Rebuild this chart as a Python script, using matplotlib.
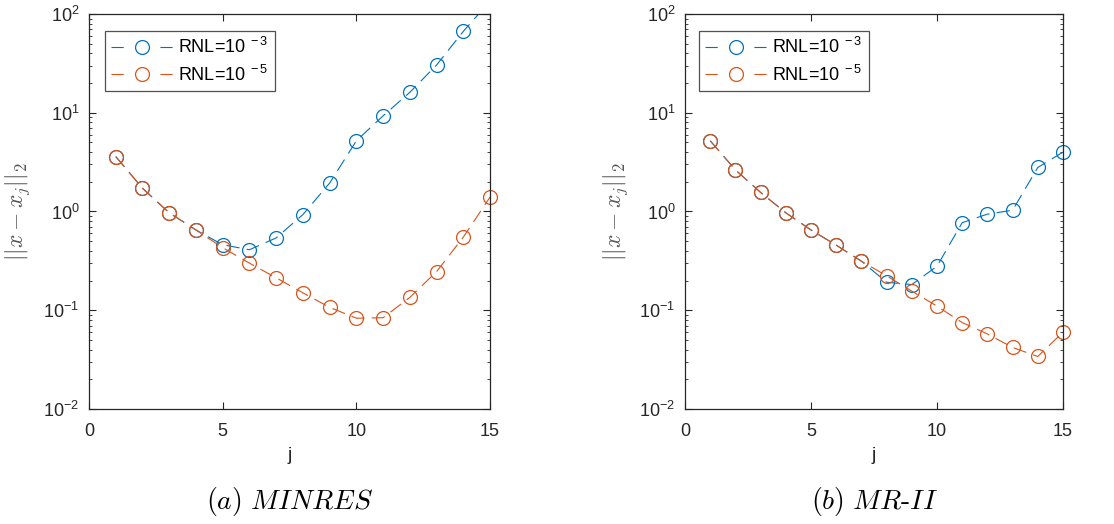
import numpy as np
import matplotlib
matplotlib.use("Agg")
import matplotlib.pyplot as plt
from matplotlib.ticker import LogLocator, NullFormatter, FixedLocator

plt.rcParams['font.family'] = ['Liberation Sans', 'DejaVu Sans']
plt.rcParams['mathtext.fontset'] = 'custom'
plt.rcParams['mathtext.rm'] = 'Liberation Sans'
plt.rcParams['mathtext.it'] = 'Liberation Sans:italic'

# iteration index
j = np.arange(1, 16)

# (a) MINRES
minres_rnl3 = [3.6, 1.72, 0.97, 0.65, 0.46, 0.41, 0.54, 0.93, 1.94, 5.2,
               9.3, 16.1, 30.4, 66.7, 135.0]
minres_rnl5 = [3.6, 1.72, 0.97, 0.65, 0.43, 0.30, 0.213, 0.15, 0.107, 0.083,
               0.084, 0.135, 0.246, 0.55, 1.40]

# (b) MR-II
mr2_rnl3 = [5.2, 2.64, 1.56, 0.97, 0.65, 0.456, 0.314, 0.192, 0.182, 0.279,
            0.77, 0.94, 1.03, 2.79, 3.99]
mr2_rnl5 = [5.2, 2.64, 1.56, 0.97, 0.65, 0.456, 0.314, 0.223, 0.156, 0.11,
            0.075, 0.0575, 0.042, 0.034, 0.060]

labels = [r'RNL=10$^{\ -3}$', r'RNL=10$^{\ -5}$']
captions = [r'$(a)\ MINRES$', r'$(b)\ MR\text{-}II$']
colors = ['#0072BD', '#D95319']
axcol = '#262626'

fig = plt.figure(figsize=(11.14, 5.24), dpi=100)
ax1 = fig.add_axes([0.0799, 0.2195, 0.36, 0.7538])
ax2 = fig.add_axes([0.6149, 0.2195, 0.3393, 0.7538])

panels = [(ax1, minres_rnl3, minres_rnl5, 0.04, -0.142),
          (ax2, mr2_rnl3, mr2_rnl5, 0.037, -0.145)]

for k, (ax, y3, y5, lx, ylx) in enumerate(panels):
    for y, lab, c in zip([y3, y5], labels, colors):
        y = np.asarray(y)
        # dashed line, clipped at the axes box
        ax.plot(j, y, color=c, lw=0.8, dashes=(12, 6.5))
        # open circles, not clipped at the box edges
        ax.plot(j, np.ma.masked_greater(y, 100), ls='none', marker='o',
                ms=10, mfc='none', mec=c, mew=0.9, clip_on=False)
        # legend proxy: segment - circle - segment
        ax.plot([], [], color=c, lw=0.8, dashes=(11, 33), marker='o', ms=10,
                mfc='none', mec=c, mew=0.9, label=lab)
    ax.set_yscale('log')
    ax.set_xlim(0, 15)
    ax.set_ylim(1e-2, 1e2)
    ax.xaxis.set_major_locator(FixedLocator([0, 5, 10, 15]))
    ax.yaxis.set_major_locator(FixedLocator([1e-2, 1e-1, 1e0, 1e1, 1e2]))
    ax.set_yticklabels([r'$\mathregular{10^{-2}}$', r'$\mathregular{10^{-1}}$',
                        r'$\mathregular{10^{0}}$', r'$\mathregular{10^{1}}$',
                        r'$\mathregular{10^{2}}$'])
    ax.yaxis.set_minor_locator(LogLocator(base=10, subs=np.arange(2, 10)))
    ax.yaxis.set_minor_formatter(NullFormatter())
    ax.tick_params(which='both', direction='in', top=True, right=True,
                   colors=axcol, labelsize=13)
    ax.tick_params(axis='x', pad=10)
    ax.tick_params(axis='y', pad=7)
    ax.tick_params(which='major', length=5, width=0.8)
    ax.tick_params(which='minor', length=2.5, width=0.6)
    for s in ax.spines.values():
        s.set_color(axcol)
        s.set_linewidth(0.9)
    ax.set_xlabel('j', fontsize=14, color=axcol)
    ax.xaxis.set_label_coords(0.5, -0.095)
    ax.set_ylabel(r'$||x-x_j||_2$', fontsize=17, color='#555555',
                  math_fontfamily='cm')
    ax.yaxis.set_label_coords(ylx, 0.5)
    leg = ax.legend(loc='upper left', bbox_to_anchor=(lx, 0.957),
                    borderaxespad=0, fancybox=False, fontsize=13,
                    handlelength=3.4, handletextpad=0.3, borderpad=0.35,
                    labelspacing=0.4)
    leg.get_frame().set_edgecolor(axcol)
    leg.get_frame().set_linewidth(0.9)
    ax.text(0.5, -0.235, captions[k], transform=ax.transAxes, ha='center',
            va='center', fontsize=20, math_fontfamily='cm')

fig.savefig('out.png', dpi=100)
